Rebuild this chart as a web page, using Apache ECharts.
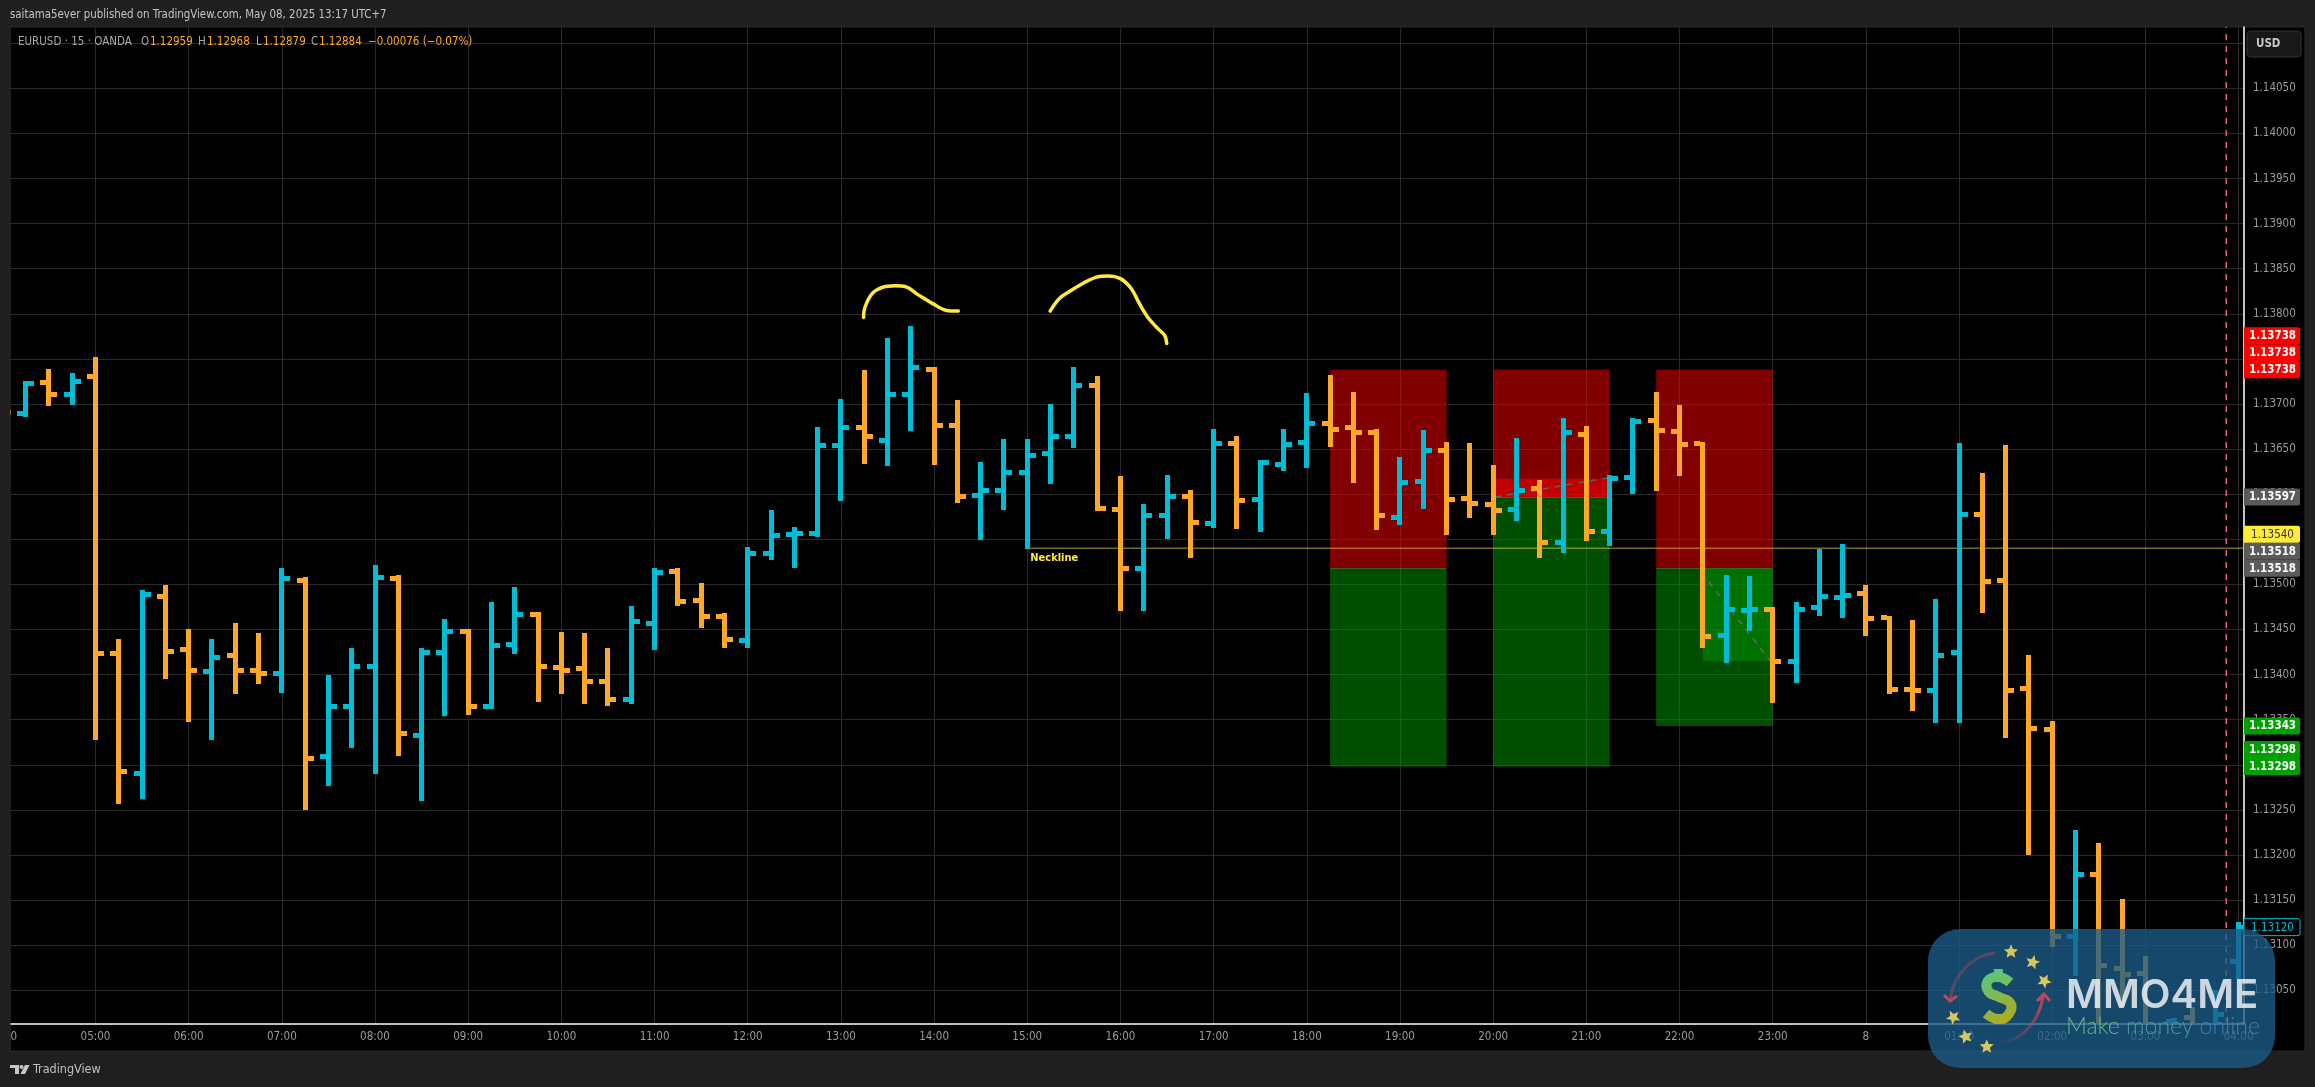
<!DOCTYPE html>
<html><head><meta charset="utf-8">
<style>html,body{margin:0;padding:0;background:#1f1f1f}#c{width:2315px;height:1087px}</style>
<script src="https://cdn.jsdelivr.net/npm/echarts@6/dist/echarts.min.js"></script>
</head><body><div id="c"></div>
<script>
// 15-minute bars; slot 0 of these arrays is 04:00
const timeLabels = ['04:00','05:00','06:00','07:00','08:00','09:00','10:00','11:00','12:00','13:00','14:00','15:00','16:00','17:00','18:00','19:00','20:00','21:00','22:00','23:00','8','01:00','02:00','03:00','04:00'];
const priceTicks = [1.1305,1.131,1.1315,1.132,1.1325,1.133,1.1335,1.134,1.1345,1.135,1.1355,1.136,1.1365,1.137,1.1375,1.138,1.1385,1.139,1.1395,1.14,1.1405,1.141];
const barOpen = [1.13700,1.13690,1.13724,1.13711,1.13730,1.13423,1.13290,1.13487,1.13428,1.13403,1.13421,1.13404,1.13401,1.13504,1.13309,1.13365,1.13409,1.13507,1.13333,1.13425,1.13448,1.13365,1.13433,1.13467,1.13408,1.13407,1.13392,1.13372,1.13457,1.13514,
1.13482,1.13464,1.13438,1.13534,1.13555,1.13556,1.13654,1.13674,1.13659,1.13711,1.13738,1.13676,1.13599,1.13604,1.13624,1.13645,1.13664,1.13721,1.13583,1.13518,1.13576,1.13598,1.13567,1.13656,1.13594,1.13633,1.13657,1.13678,
1.13674,1.13668,1.13574,1.13614,1.13649,1.13595,1.13589,1.13583,1.13606,1.13546,1.13666,1.13559,1.13618,1.13682,1.13670,1.13656,1.13443,1.13471,1.13472,1.13414,1.13474,1.13485,1.13490,1.13463,1.13383,1.13382,1.13424,1.13578,1.13504,1.13385,1.13339,1.13110,1.13178,1.13074,1.13069,1.12990,1.13020,1.13000,1.13082];
const barHigh = [1.13710,1.13726,1.13739,1.13734,1.13752,1.13439,1.13494,1.13499,1.13451,1.13439,1.13457,1.13446,1.13518,1.13508,1.13399,1.13429,1.13521,1.13510,1.13429,1.13462,1.13451,1.13481,1.13497,1.13469,1.13447,1.13446,1.13429,1.13476,1.13518,1.13518,
1.13502,1.13468,1.13542,1.13582,1.13564,1.13674,1.13706,1.13738,1.13773,1.13786,1.13741,1.13704,1.13636,1.13661,1.13661,1.13700,1.13741,1.13731,1.13620,1.13589,1.13621,1.13605,1.13672,1.13664,1.13638,1.13672,1.13712,1.13732,
1.13713,1.13672,1.13641,1.13671,1.13658,1.13657,1.13632,1.13662,1.13616,1.13684,1.13676,1.13621,1.13684,1.13713,1.13699,1.13658,1.13510,1.13509,1.13475,1.13480,1.13539,1.13545,1.13499,1.13465,1.13461,1.13484,1.13657,1.13624,1.13654,1.13422,1.13348,1.13228,1.13213,1.13151,1.13088,1.13018,1.13032,1.13050,1.13126];
const barLow = [1.13680,1.13686,1.13698,1.13699,1.13327,1.13257,1.13262,1.13395,1.13347,1.13328,1.13379,1.13390,1.13380,1.13250,1.13277,1.13319,1.13290,1.13310,1.13260,1.13354,1.13355,1.13362,1.13423,1.13370,1.13379,1.13367,1.13365,1.13367,1.13427,1.13476,
1.13452,1.13429,1.13430,1.13527,1.13518,1.13552,1.13592,1.13633,1.13631,1.13670,1.13632,1.13590,1.13549,1.13582,1.13539,1.13611,1.13651,1.13581,1.13470,1.13471,1.13550,1.13529,1.13562,1.13561,1.13558,1.13626,1.13629,1.13652,
1.13612,1.13560,1.13566,1.13584,1.13555,1.13574,1.13555,1.13570,1.13529,1.13535,1.13548,1.13543,1.13600,1.13604,1.13620,1.13430,1.13413,1.13448,1.13368,1.13391,1.13465,1.13463,1.13443,1.13379,1.13360,1.13346,1.13346,1.13468,1.13330,1.13200,1.13098,1.13066,1.13014,1.13032,1.12960,1.12950,1.12960,1.12970,1.13063];
const barClose = [1.13691,1.13723,1.13710,1.13725,1.13423,1.13292,1.13489,1.13426,1.13404,1.13419,1.13405,1.13401,1.13507,1.13307,1.13365,1.13409,1.13508,1.13335,1.13424,1.13448,1.13365,1.13432,1.13467,1.13409,1.13405,1.13392,1.13372,1.13459,1.13513,1.13481,
1.13464,1.13439,1.13534,1.13554,1.13556,1.13654,1.13674,1.13664,1.13711,1.13740,1.13676,1.13598,1.13604,1.13624,1.13643,1.13664,1.13721,1.13584,1.13518,1.13576,1.13598,1.13569,1.13656,1.13593,1.13635,1.13655,1.13678,1.13672,
1.13668,1.13576,1.13613,1.13649,1.13594,1.13590,1.13582,1.13604,1.13546,1.13668,1.13559,1.13617,1.13681,1.13671,1.13655,1.13442,1.13472,1.13472,1.13414,1.13472,1.13487,1.13488,1.13462,1.13383,1.13382,1.13421,1.13577,1.13503,1.13382,1.13340,1.13110,1.13178,1.13077,1.13068,1.12985,1.13016,1.12990,1.13023,1.13120];
// hand-drawn strokes above the two shoulders
const stroke1Slot = [32.97,33.03,33.33,33.75,34.33,34.78,35.32,35.96,36.5,37.04];
const stroke1Price = [1.13796,1.13807,1.13822,1.13829,1.13831,1.13830,1.13821,1.13811,1.13804,1.13803];
const stroke2Slot = [40.98,41.38,41.83,42.47,43.01,43.46,44,44.46,44.82,45.18,45.63,45.9,45.99];
const stroke2Price = [1.13803,1.13817,1.13825,1.13835,1.13841,1.13842,1.13839,1.13828,1.13811,1.13796,1.13783,1.13776,1.13767];
// position boxes
const boxStart = [53,60,67];
const boxEnd = [58,65,72];
const boxStop = [1.13738,1.13738,1.13738];
const boxEntry = [1.13518,1.13597,1.13518];
const boxTarget = [1.13298,1.13298,1.13343];
// open profit/loss fills: [start, end, from, to]
const pnlRed = [60.1,64.9,1.13597,1.13617];
const pnlGreen = [69,72,1.13518,1.13415];
const tradeLine1 = [[60.1,1.13597],[64.9,1.13618]];
const tradeLine2 = [[69.25,1.13503],[71.9,1.13415]];
const necklinePrice = 1.1354;
const necklineStart = 40;
const sessionBreak = 91.47;
const tagValues = [1.1312,1.13298,1.13298,1.13343,1.13518,1.13518,1.1354,1.13597,1.13738,1.13738,1.13738];
const tagKinds = ['last','green','green','green','gray','gray','yellow','gray','red','red','red'];

const PX = {left:2.3,right:2243.5,top:27,bottom:1024};
const xMax = 92.21;
const yMin = 1.130126, yMax = 1.14118;
const ORANGE='#FFA726', BLUE='#00BCD4', YELLOW='#FFEB3B';
const FONT='"DejaVu Sans Condensed","Liberation Sans",sans-serif';
const bars = barOpen.map((o,i)=>[i-4,o,barClose[i],barLow[i],barHigh[i]]);

function renderBar(params,api){
  const k=api.value(0),o=api.value(1),c=api.value(2),l=api.value(3),h=api.value(4);
  const col=c>=o?BLUE:ORANGE;
  const x0=Math.round(api.coord([k,o])[0]-2.5);
  const yo=api.coord([k,o])[1],yc=api.coord([k,c])[1],yl=Math.round(api.coord([k,l])[1]),yh=Math.round(api.coord([k,h])[1]);
  const w=5,t=5,arm=6;
  return {type:'group',children:[
    {type:'rect',shape:{x:x0,y:yh,width:w,height:yl-yh},style:{fill:col}},
    {type:'rect',shape:{x:x0-arm,y:Math.round(yo-t/2),width:arm,height:t},style:{fill:col}},
    {type:'rect',shape:{x:x0+w,y:Math.round(yc-t/2),width:arm,height:t},style:{fill:col}}
  ]};
}
function zone(api,k0,k1,p0,p1,fill){
  const a=api.coord([k0,p0]),b=api.coord([k1,p1]);
  return {type:'rect',shape:{x:a[0],y:Math.min(a[1],b[1]),width:b[0]-a[0],height:Math.abs(b[1]-a[1])},style:{fill:fill}};
}
function renderBoxes(params,api){
  const i=params.dataIndex;
  return {type:'group',children:[
    zone(api,boxStart[i],boxEnd[i],boxStop[i],boxEntry[i],'rgba(255,0,0,0.5)'),
    zone(api,boxStart[i],boxEnd[i],boxEntry[i],boxTarget[i],'rgba(0,155,0,0.5)'),
    zone(api,boxStart[i],boxEnd[i],boxEntry[i],boxEntry[i]-0.00001,'rgba(120,120,120,0.6)')
  ]};
}
function renderPnl(params,api){
  return {type:'group',children:[
    zone(api,pnlRed[0],pnlRed[1],pnlRed[2],pnlRed[3],'rgba(255,0,0,0.5)'),
    zone(api,pnlGreen[0],pnlGreen[1],pnlGreen[2],pnlGreen[3],'rgba(0,155,0,0.45)')
  ]};
}
let tagPrev=1e9;
const tagStyle={last:{bg:'#000',fg:BLUE,st:BLUE,w:'normal'},green:{bg:'#009f00',fg:'#fff',w:'bold'},gray:{bg:'#5a5a5a',fg:'#fff',w:'bold'},yellow:{bg:YELLOW,fg:'#333',w:'normal'},red:{bg:'#ff0000',fg:'#fff',w:'bold'}};
function renderTag(params,api){
  if(params.dataIndex===0) tagPrev=1e9;
  const v=api.value(1);
  const y=Math.min(api.coord([xMax,v])[1],tagPrev-17);
  tagPrev=y;
  const s=tagStyle[tagKinds[params.dataIndex]];
  const x0=PX.right+0.5;
  return {type:'group',children:[
    {type:'rect',shape:{x:x0,y:y-8.5,width:56,height:17,r:[0,2,2,0]},style:{fill:s.bg,stroke:s.st||null,lineWidth:s.st?1:0}},
    {type:'text',style:{text:v.toFixed(5),x:x0+28.5,y:y+0.5,fill:s.fg,font:s.w+' 11.5px '+FONT,textAlign:'center',verticalAlign:'middle',textVerticalAlign:'middle'}}
  ]};
}
function starPts(cx,cy,r,rot){
  const p=[];for(let i=0;i<10;i++){const a=rot+i*Math.PI/5-Math.PI/2;const q=i%2?r*0.45:r;p.push([cx+q*Math.cos(a),cy+q*Math.sin(a)]);}
  return p;
}
const Z=200;
function gText(x,y,text,fill,size,extra){
  return Object.assign({type:'text',x:x,y:y,z:Z-50,silent:true,style:{text:text,fill:fill,font:size+'px '+FONT,textVerticalAlign:'middle',verticalAlign:'middle'}},extra||{});
}
const dollarStroke={type:'linear',global:true,x:1982,y:970,x2:2014,y2:1024,colorStops:[{offset:0,color:'#4fc98a'},{offset:1,color:'#b9a814'}]};
const stars=[[2011,951.7],[2032.7,962.3],[2044.3,981],[1953.3,1017.3],[1965.7,1036.7],[1986.7,1046.7]].map((s,i)=>({type:'polygon',z:Z+1,silent:true,shape:{points:starPts(s[0],s[1],7.5,i*0.25)},style:{fill:'#d9c75c'}}));
const graphic=[
  {type:'rect',z:-10,silent:true,shape:{x:10,y:27,width:2295,height:1024},style:{fill:'#000',stroke:'#2b2b2b',lineWidth:1}},
  {type:'rect',z:100,silent:true,shape:{x:0,y:0,width:10,height:1087},style:{fill:'#1f1f1f'}},
  {type:'line',z:100,silent:true,shape:{x1:10,y1:27,x2:10,y2:1051},style:{stroke:'#2b2b2b',lineWidth:1}},
  gText(10,15,'saitama5ever published on TradingView.com, May 08, 2025 13:17 UTC+7','#c4c4c4',11.4),
  gText(18,42,'EURUSD · 15 · OANDA','#a8a8a8',11.5),
  gText(141,42,'O','#a8a8a8',11.5),gText(150,42,'1.12959',ORANGE,11.5),
  gText(198,42,'H','#a8a8a8',11.5),gText(207,42,'1.12968',ORANGE,11.5),
  gText(256,42,'L','#a8a8a8',11.5),gText(263,42,'1.12879',ORANGE,11.5),
  gText(311,42,'C','#a8a8a8',11.5),gText(319,42,'1.12884',ORANGE,11.5),
  gText(368,42,'−0.00076 (−0.07%)',ORANGE,11.5),
  {type:'rect',z:Z-50,silent:true,shape:{x:2247,y:31,width:54,height:26,r:4},style:{fill:'#181818',stroke:'#333',lineWidth:1}},
  gText(2256,44,'USD','#c8c8c8',11.5,{style:{text:'USD',fill:'#c8c8c8',font:'bold 11.5px '+FONT,verticalAlign:'middle',textVerticalAlign:'middle'}}),
  // TradingView logo
  {type:'polygon',z:Z-50,silent:true,shape:{points:[[10,1065],[19,1065],[19,1074],[15,1074],[15,1068],[10,1068]]},style:{fill:'#c8c8c8'}},
  {type:'circle',z:Z-50,silent:true,shape:{cx:21.5,cy:1067,r:2},style:{fill:'#c8c8c8'}},
  {type:'polygon',z:Z-50,silent:true,shape:{points:[[25,1065],[29.5,1065],[25,1074],[20.5,1074]]},style:{fill:'#c8c8c8'}},
  gText(33,1069.5,'TradingView','#c0c0c0',12.5),
  // MMO4ME badge
  {type:'rect',z:Z,silent:true,shape:{x:1928,y:929,width:347,height:139,r:32},style:{fill:'rgba(28,92,137,0.78)'}},
  {type:'bezierCurve',z:Z+1,silent:true,shape:{x1:1995,y1:953,cpx1:1972,cpy1:955,cpx2:1953,cpy2:975,x2:1950,y2:1000},style:{fill:'none',lineWidth:3,stroke:{type:'linear',x:0,y:0,x2:1,y2:1,colorStops:[{offset:0,color:'rgba(190,70,90,0)'},{offset:1,color:'rgba(190,70,90,1)'}]}}},
  {type:'polyline',z:Z+1,silent:true,shape:{points:[[1944,995],[1950,1001],[1957,996]]},style:{fill:'none',stroke:'#c0475a',lineWidth:3}},
  {type:'bezierCurve',z:Z+1,silent:true,shape:{x1:2000,y1:1043,cpx1:2025,cpy1:1040,cpx2:2040,cpy2:1018,x2:2043,y2:996},style:{fill:'none',lineWidth:3,stroke:{type:'linear',x:0,y:1,x2:1,y2:0,colorStops:[{offset:0,color:'rgba(190,70,90,0)'},{offset:1,color:'rgba(200,70,90,1)'}]}}},
  {type:'polyline',z:Z+1,silent:true,shape:{points:[[2037,1001],[2044,994],[2050,1001]]},style:{fill:'none',stroke:'#c0475a',lineWidth:3}},
  {type:'polyline',z:Z+1,silent:true,shape:{points:[[2010,982.5],[1998,977],[1987.5,981.5],[1988.5,991.5],[1998.3,996.7],[2010.5,1003.3],[2008.5,1014.5],[1998.3,1019],[1986,1013.5]],smooth:0.5},style:{fill:'none',stroke:dollarStroke,lineWidth:10}},
  {type:'line',z:Z+1,silent:true,shape:{x1:1998.3,y1:969,x2:1998.3,y2:1024},style:{stroke:dollarStroke,lineWidth:9,lineDash:[10,35]}},
  ...stars,
  {type:'text',z:Z+1,silent:true,x:2066,y:996,style:{text:'MMO4ME',font:'600 40px Inter,"Liberation Sans"',fill:'rgba(255,255,255,0.78)',verticalAlign:'middle',textVerticalAlign:'middle'}},
  {type:'text',z:Z+1,silent:true,x:2066,y:1027,style:{text:'{a|Make} {b|money} {c|online}',font:'300 23px Lato,"Liberation Sans"',verticalAlign:'middle',textVerticalAlign:'middle',rich:{a:{fill:'rgba(110,200,140,0.85)',font:'300 23px Lato'},b:{fill:'rgba(85,165,165,0.85)',font:'300 23px Lato'},c:{fill:'rgba(65,135,185,0.85)',font:'300 23px Lato'}}}}
];

const chart=echarts.init(document.getElementById('c'),null,{width:2315,height:1087,renderer:'canvas'});
chart.setOption({
  animation:false,backgroundColor:'#1f1f1f',
  grid:{left:PX.left,top:PX.top,width:PX.right-PX.left,height:PX.bottom-PX.top,show:false,containLabel:false,outerBoundsMode:'none'},
  xAxis:{type:'value',min:-4,max:xMax,interval:4,
    axisLine:{show:true,lineStyle:{color:'#fff',width:1.5}},axisTick:{show:false},
    axisLabel:{show:true,margin:7,color:'#9c9c9c',fontSize:11.5,fontFamily:FONT,showMaxLabel:false,
      formatter:v=>{const i=(v+4)/4;return Number.isInteger(i)?(timeLabels[i]||''):'';}},
    splitLine:{show:true,lineStyle:{color:'#2a2a2a',width:1}}},
  yAxis:{type:'value',position:'right',min:yMin,max:yMax,scale:true,
    axisLine:{show:true,onZero:false,lineStyle:{color:'#fff',width:1.5}},
    axisTick:{show:false,customValues:priceTicks},
    axisLabel:{show:true,margin:9.5,color:'#9c9c9c',fontSize:11.5,fontFamily:FONT,customValues:priceTicks,formatter:v=>v.toFixed(5)},
    splitLine:{show:true,lineStyle:{color:'#2a2a2a',width:1}}},
  graphic:{elements:graphic},
  series:[
    {type:'custom',z:1,clip:true,data:boxStart.map((k,i)=>[k,boxEntry[i]]),encode:{x:0,y:1},renderItem:renderBoxes},
    {type:'custom',z:1,clip:true,data:[[pnlRed[0],pnlRed[2]]],encode:{x:0,y:1},renderItem:renderPnl},
    {type:'line',z:2,data:tradeLine1,showSymbol:false,symbol:'none',lineStyle:{color:'#666',width:1.5,type:[6,6]}},
    {type:'line',z:2,data:tradeLine2,showSymbol:false,symbol:'none',lineStyle:{color:'#666',width:1.5,type:[6,6]}},
    {type:'line',z:2,data:[[necklineStart,necklinePrice],[xMax,necklinePrice]],showSymbol:false,symbol:'none',lineStyle:{color:'rgba(255,235,59,0.45)',width:1.5}},
    {type:'custom',z:4,clip:false,data:[[necklineStart,necklinePrice]],encode:{x:0,y:1},renderItem:(p,api)=>{
      const c=api.coord([api.value(0),api.value(1)]);
      return {type:'text',style:{text:'Neckline',x:c[0]+3,y:c[1]+10,fill:YELLOW,font:'bold 11px '+FONT,verticalAlign:'middle',textVerticalAlign:'middle'}};}},
    {type:'line',z:2,data:[[sessionBreak,yMin],[sessionBreak,yMax]],showSymbol:false,symbol:'none',lineStyle:{color:'#e8608a',width:1.5,type:[6,6]}},
    {type:'custom',z:3,clip:true,data:bars,encode:{x:0,y:[1,2,3,4]},renderItem:renderBar},
    {type:'line',z:5,smooth:0.35,data:stroke1Slot.map((k,i)=>[k,stroke1Price[i]]),showSymbol:false,symbol:'none',lineStyle:{color:YELLOW,width:3.5,cap:'round',join:'round'}},
    {type:'line',z:5,smooth:0.35,data:stroke2Slot.map((k,i)=>[k,stroke2Price[i]]),showSymbol:false,symbol:'none',lineStyle:{color:YELLOW,width:3.5,cap:'round',join:'round'}},
    {type:'custom',z:6,clip:false,data:tagValues.map(v=>[xMax,v]),encode:{x:0,y:1},renderItem:renderTag}
  ]
});
</script></body></html>
